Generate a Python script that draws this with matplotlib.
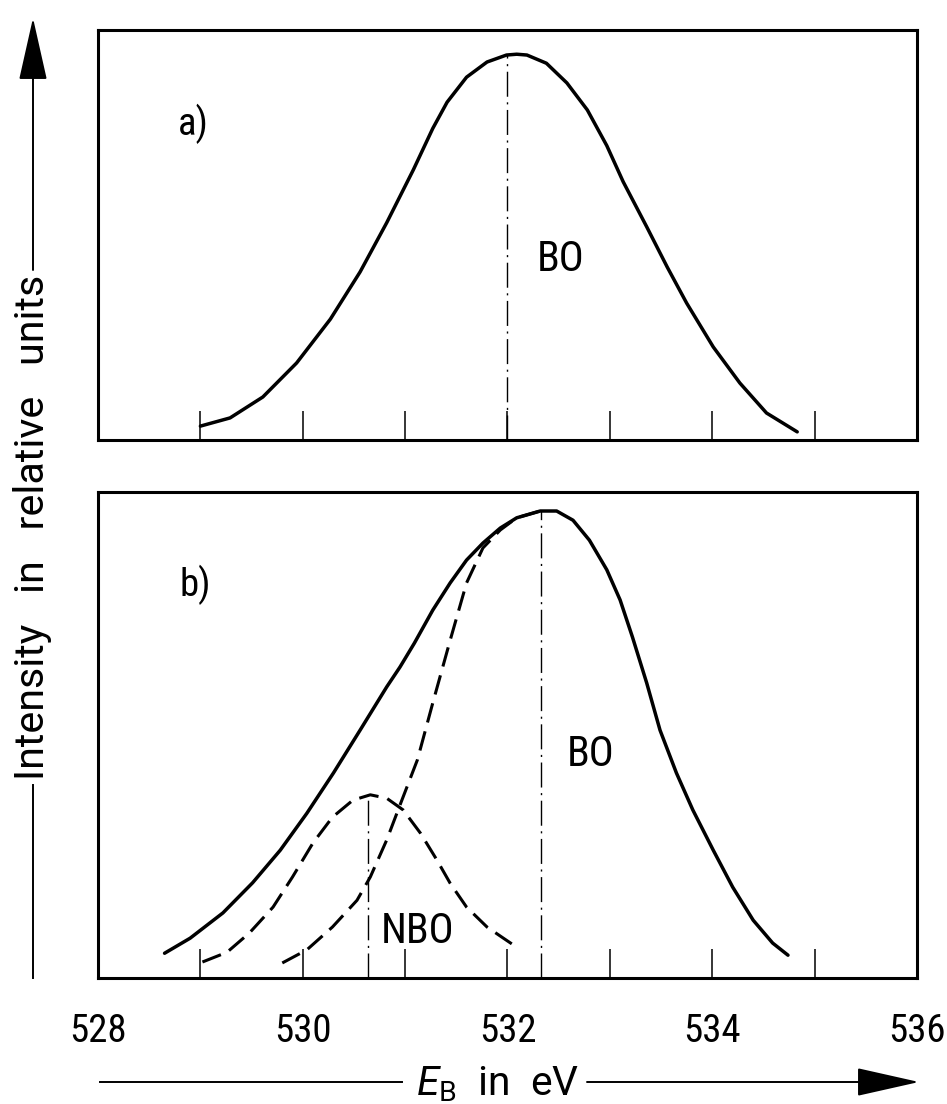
import matplotlib
matplotlib.use("Agg")
import matplotlib.pyplot as plt

plt.rcParams['font.family'] = ['Roboto Condensed', 'DejaVu Sans']
plt.rcParams['mathtext.fontset'] = 'custom'
plt.rcParams['mathtext.rm'] = 'Roboto'
plt.rcParams['mathtext.it'] = 'Roboto:italic'

# panel a) - single BO peak (binding energy in eV, intensity in relative units)
a_energy = [529.00, 529.29, 529.61, 529.94, 530.27, 530.56, 530.82, 531.08, 531.27,
            531.41, 531.60, 531.80, 531.99, 532.09, 532.19, 532.38, 532.58, 532.78,
            532.97, 533.13, 533.36, 533.56, 533.75, 534.01, 534.27, 534.53, 534.83]
a_total = [3.4, 5.4, 10.5, 18.8, 29.5, 41.0, 53.0, 65.9, 76.0,
           82.4, 88.5, 92.2, 93.9, 94.1, 93.9, 91.9, 87.1, 80.5,
           71.8, 63.0, 52.0, 42.2, 33.4, 22.7, 13.9, 6.6, 2.0]
a_bo_peak = 532.0

# panel b) - measured envelope
b_energy = [528.65, 528.90, 529.22, 529.51, 529.78, 530.04, 530.30, 530.56, 530.82,
            530.95, 531.09, 531.27, 531.44, 531.60, 531.76, 531.93, 532.09, 532.32,
            532.48, 532.64, 532.80, 532.97, 533.10, 533.22, 533.36, 533.49, 533.65,
            533.81, 534.01, 534.20, 534.40, 534.59, 534.74]
b_total = [5.1, 8.2, 13.4, 19.6, 26.3, 33.9, 42.2, 51.0, 59.9,
           64.0, 68.9, 75.7, 81.3, 86.0, 89.5, 92.6, 94.7, 96.1,
           96.1, 94.2, 90.1, 84.0, 77.8, 70.2, 60.7, 51.0, 42.2,
           34.6, 26.3, 18.7, 11.9, 7.2, 4.7]

# panel b) - BO component (low-energy flank, joins envelope at its top)
bo_energy = [529.80, 530.04, 530.29, 530.53, 530.66, 530.82, 530.95, 531.12,
             531.27, 531.44, 531.60, 531.76, 531.93, 532.09, 532.32]
bo_int = [3.1, 5.8, 10.5, 16.0, 20.8, 28.4, 35.6, 44.9,
          56.6, 69.5, 81.3, 88.5, 92.2, 94.7, 96.1]

# panel b) - NBO component
nbo_energy = [529.02, 529.26, 529.48, 529.71, 529.90, 530.10, 530.29, 530.49, 530.66,
              530.82, 530.98, 531.15, 531.31, 531.44, 531.60, 531.80, 531.96, 532.10]
nbo_int = [3.3, 5.3, 9.3, 14.6, 20.8, 27.8, 33.1, 36.6, 37.7,
           37.0, 34.6, 29.8, 24.3, 19.5, 14.6, 10.5, 8.2, 6.2]

b_bo_peak = 532.33
b_nbo_peak = 530.64

xlabels = [528, 530, 532, 534, 536]
minor_ticks = [529, 531, 533, 535]

fig = plt.figure(figsize=(9.47, 11.04), dpi=100)
ax_a = fig.add_axes([0.1035, 0.6014, 0.8648, 0.3714])
ax_b = fig.add_axes([0.1035, 0.1141, 0.8648, 0.4402])

dashdot = (0, (18, 4, 1.5, 4))

for ax in (ax_a, ax_b):
    ax.set_xlim(528, 536)
    ax.set_ylim(0, 100)
    ax.set_yticks([])
    ax.set_xticks(xlabels)
    ax.set_xticks(minor_ticks, minor=True)
    ax.tick_params(axis='x', which='both', direction='in', length=21, width=1.1,
                   top=False, pad=25, labelsize=28)
    for sp in ax.spines.values():
        sp.set_linewidth(2.2)

ax_a.tick_params(axis='x', labelbottom=False)

line_kw = dict(color='k', solid_joinstyle='round', solid_capstyle='round')

# a)
ax_a.plot(a_energy, a_total, lw=2.5, **line_kw)
ax_a.vlines(a_bo_peak, 0, max(a_total), color='k', lw=1.0, linestyles=dashdot)
ax_a.text(528.93, 77, 'a)', fontsize=28, ha='center', va='center')
ax_a.text(532.52, 44, 'BO', fontsize=30, ha='center', va='center')

# b)
ax_b.plot(b_energy, b_total, lw=2.5, **line_kw)
ax_b.plot(bo_energy, bo_int, color='k', lw=2.2, dashes=(6.5, 3))
ax_b.plot(nbo_energy, nbo_int, color='k', lw=2.2, dashes=(6.5, 3))
ax_b.vlines(b_bo_peak, 0, max(b_total), color='k', lw=1.0, linestyles=dashdot)
ax_b.vlines(b_nbo_peak, 0, max(nbo_int), color='k', lw=1.0, linestyles=dashdot)
ax_b.text(528.95, 81, 'b)', fontsize=28, ha='center', va='center')
ax_b.text(532.81, 46, 'BO', fontsize=30, ha='center', va='center')
ax_b.text(531.12, 9.5, 'NBO', fontsize=30, ha='center', va='center')

# axis arrows drawn in pixel space of the figure
ov = fig.add_axes([0, 0, 1, 1])
ov.set_xlim(0, 947)
ov.set_ylim(1104, 0)
ov.axis('off')

arrow = dict(arrowstyle='-|>,head_length=0.4,head_width=0.09', mutation_scale=100,
             lw=1.4, color='k', shrinkA=0, shrinkB=0)
ov.plot([33, 33], [978, 785], color='k', lw=1.4)
ov.annotate('', xy=(33, 18), xytext=(33, 270), arrowprops=arrow)
ylab = ov.text(33, 527, 'Intensity   in   relative   units', rotation=90, fontsize=29,
               family='Roboto', ha='center', va='center')

ov.plot([100, 402], [1082, 1082], color='k', lw=1.4)
ov.annotate('', xy=(919, 1082), xytext=(587, 1082), arrowprops=arrow)
xlab = ov.text(498, 1084, r'$E_\mathrm{B}$  in  eV', fontsize=28, family='Roboto',
               ha='center', va='center')

# fit the two axis captions into the gaps left in their arrows
r = fig.canvas.get_renderer()
ylab.set_fontsize(29 * 505 / ylab.get_window_extent(r).height)
xlab.set_fontsize(28 * 163 / xlab.get_window_extent(r).width)

fig.savefig('out.png', dpi=100)
